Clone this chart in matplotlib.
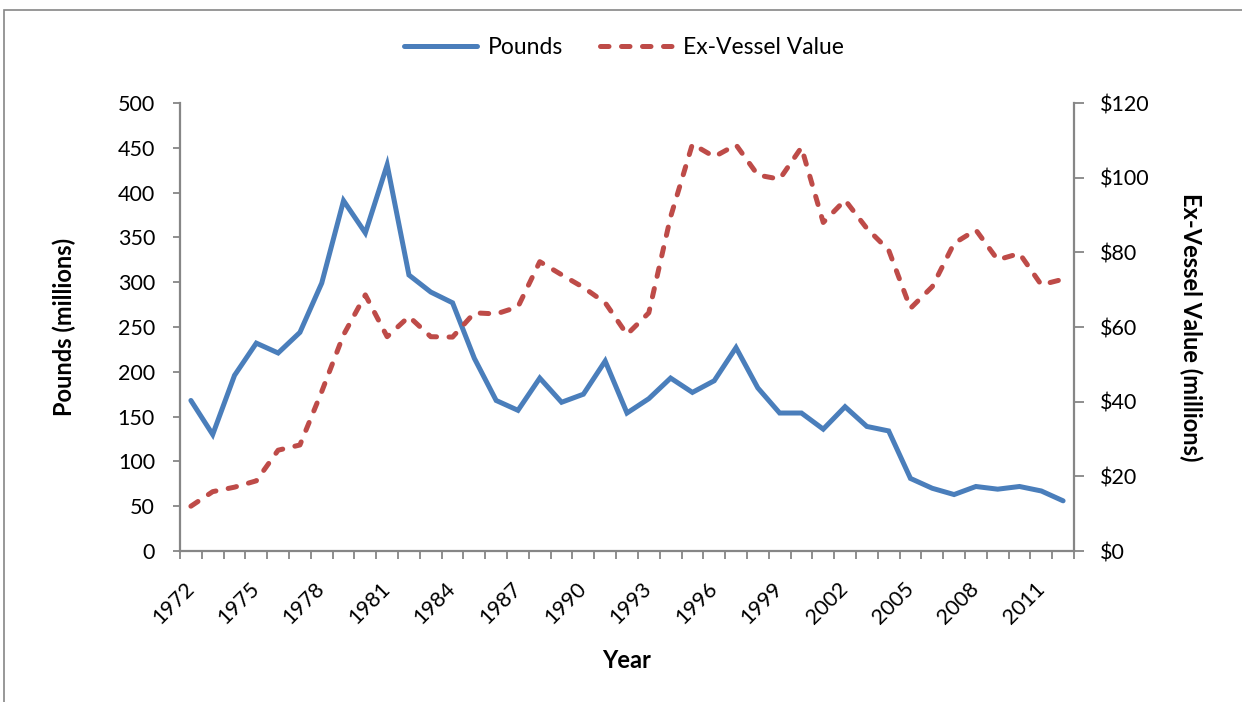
import numpy as np
import matplotlib.pyplot as plt
from matplotlib.patches import Rectangle

plt.rcParams['font.family'] = ['Lato', 'DejaVu Sans']

# ====================== DATA ======================
years = list(range(1972, 2013))
pounds = [168, 130, 196, 232, 221, 244, 299, 391, 355, 431,
          308, 289, 277, 215, 168, 157, 193, 166, 175, 212,
          154, 170, 193, 177, 190, 227, 182, 154, 154, 136,
          161, 139, 134, 81, 70, 63, 72, 69, 72, 67, 56]
value = [12.0, 15.9, 17.1, 18.8, 27.0, 28.4, 42.7, 57.9, 68.6, 57.4,
         62.8, 57.4, 57.3, 63.8, 63.5, 65.4, 77.5, 74.0, 70.6, 66.5,
         58.0, 63.8, 89.5, 109.0, 105.6, 108.8, 100.7, 99.6, 108.1, 88.0,
         94.0, 86.4, 80.6, 65.0, 70.8, 82.4, 86.0, 78.0, 79.7, 71.3, 72.8]

blue = '#4A7EBB'
red = '#BE4B48'
grey = '#868686'
tick_fs = 15.5

# ====================== FIGURE ======================
fig = plt.figure(figsize=(12.42, 7.02), dpi=100)
fig.patches.append(Rectangle((4 / 1242, -0.1), 1.1, 1 - 10 / 702 + 0.1,
                             transform=fig.transFigure, fill=False,
                             edgecolor=grey, linewidth=1.2))

ax = fig.add_axes([180 / 1242, 1 - 551 / 702, 894 / 1242, 448 / 702])
ax2 = ax.twinx()

x = np.arange(len(years))
l1, = ax.plot(x, pounds, color=blue, lw=3.6, solid_capstyle='round',
              solid_joinstyle='miter')
l2, = ax2.plot(x, value, color=red, lw=3.6, linestyle=(0, (1.7, 2.5)),
               dash_capstyle='round')

ax.set_xlim(-0.5, len(years) - 0.5)
ax.set_ylim(0, 500)
ax2.set_ylim(0, 120)
ax.set_yticks(np.arange(0, 501, 50))
ax2.set_yticks(np.arange(0, 121, 20))
ax2.set_yticklabels([f'${v}' for v in range(0, 121, 20)])

# category boundaries as tick marks, labels every third year
ax.set_xticks(np.arange(-0.5, len(years), 1.0))
ax.set_xticklabels([])
ax.set_xticks(x[::3], minor=True)
ax.set_xticklabels([str(y) for y in years[::3]], minor=True, rotation=45,
                   ha='right', va='center', rotation_mode='anchor')
ax.tick_params(axis='x', which='minor', length=0, pad=25, labelsize=tick_fs)
ax.tick_params(axis='x', which='major', length=5.5, color=grey, width=1.3)
ax.tick_params(axis='y', length=5, color=grey, width=1.3, labelsize=tick_fs, pad=13)
ax2.tick_params(axis='y', length=7, color=grey, width=1.3, labelsize=tick_fs, pad=12)

for a in (ax, ax2):
    a.spines['top'].set_visible(False)
    for s in ('left', 'right', 'bottom'):
        a.spines[s].set_color(grey)
        a.spines[s].set_linewidth(1.6)
ax.spines['right'].set_visible(False)
ax2.spines['left'].set_visible(False)
ax2.spines['bottom'].set_visible(False)

ax.set_ylabel('Pounds (millions)', fontsize=17, fontweight='bold', labelpad=30)
ax2.set_ylabel('Ex-Vessel Value (millions)', fontsize=17, fontweight='bold',
               rotation=270, labelpad=38)
ax.set_xlabel('Year', fontsize=17, fontweight='bold', labelpad=15)

fig.legend([l1, l2], ['Pounds', 'Ex-Vessel Value'], loc='center',
           bbox_to_anchor=(624 / 1242, 1 - 48 / 702), ncol=2, frameon=False,
           fontsize=16.5, handlelength=3.2, columnspacing=1.6, handletextpad=0.45)

fig.savefig('out.png', dpi=100)
